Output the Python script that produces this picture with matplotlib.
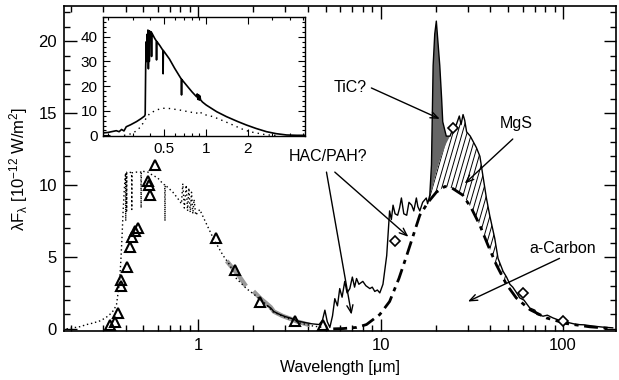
"""
Spectral energy distribution of a carbon-rich post-AGB object: optical and
near-IR photometry, the ISO spectrum, the a-Carbon continuum and the MgS and
TiC? residual features, with an inset of the unreddened stellar model.
"""

import numpy as np
import matplotlib.pyplot as plt
from matplotlib.collections import LineCollection
from matplotlib.patches import Polygon
from matplotlib.ticker import LogLocator, NullFormatter, MultipleLocator

plt.rcParams['font.family'] = ['Liberation Sans', 'DejaVu Sans']
plt.rcParams['mathtext.fontset'] = 'custom'
plt.rcParams['mathtext.rm'] = 'Liberation Sans'
plt.rcParams['mathtext.it'] = 'Liberation Sans'

# ---------------------------------------------------------------------------
# Data (wavelength in micron, lambda F_lambda in 1e-12 W/m^2)
# ---------------------------------------------------------------------------
# ISO spectrum
wl_iso = [2.4, 2.5, 2.6, 2.8, 3.0, 3.2, 3.5, 3.8, 4.2, 4.6, 4.8, 4.95, 5.1, 5.27,
          5.45, 5.61, 5.8, 5.97, 6.15, 6.36, 6.55, 6.78, 7.0, 7.2, 7.38, 7.6, 7.99,
          8.3, 8.73, 9.0, 9.29, 9.6, 9.9, 10.3, 10.8, 11.2, 11.45, 11.7, 12.0, 12.4,
          12.7, 13.0, 13.4, 13.9, 14.3, 14.8, 15.2, 15.7, 16.0, 16.4, 17.0, 17.8,
          18.1, 18.6, 19.0, 19.4, 19.8, 20.2, 20.6, 21.1, 21.6, 21.9, 22.9, 24.0,
          24.9, 26.0, 27.0, 27.6, 28.3, 28.9, 29.6, 31.0, 33.5, 35.0, 36.4, 38.0,
          39.6, 42.2, 44.0, 46.9, 49.0, 51.1, 53.0, 55.0, 57.9, 61.0, 65.7, 70.0,
          72.0, 77.7, 82.0, 88.0, 95.0, 99.6, 110, 118.7, 130, 146, 165, 187]
f_iso = [1.6, 1.45, 1.2, 1.0, 0.85, 0.75, 0.55, 0.45, 0.35, 0.3, 0.6, 1.3, 0.5, 0.1,
         0.9, 2.1, 1.6, 2.8, 2.2, 3.3, 2.5, 2.8, 3.6, 2.9, 3.5, 3.1, 3.3,
         3.0, 2.8, 2.9, 2.6, 2.7, 2.5, 3.1, 5.1, 8.2, 7.6, 8.6, 8.0, 7.9,
         8.4, 9.1, 8.0, 7.9, 8.8, 8.6, 8.2, 9.1, 8.5, 8.2, 8.8, 9.1,
         8.7, 9.3, 11.4, 18.3, 20.5, 21.4, 20.0, 18.3, 16.0, 14.4, 13.4, 13.4,
         13.9, 14.2, 14.8, 14.2, 14.9, 14.5, 13.7, 13.4, 12.6, 12.0, 10.6, 9.1,
         7.9, 6.3, 4.9, 4.0, 3.6, 3.1, 2.9, 2.6, 2.15, 2.0, 1.45, 1.3,
         1.0, 0.88, 0.95, 0.76, 0.6, 0.53, 0.4, 0.3, 0.28, 0.19, 0.12, 0.07]

# a-Carbon continuum
wl_ac = [5.5, 6.23, 7.4, 8.37, 9.9, 11.2, 12.6, 13.9, 15.1, 16.4, 18.2, 20.2, 22.5,
         24.9, 28.2, 31.4, 35.0, 38.8, 43.1, 48.9, 55.4, 65.7, 81.0, 104.2, 140, 187]
f_ac = [0.0, 0.02, 0.1, 0.3, 1.0, 1.9, 3.5, 5.1, 6.5, 7.9, 8.8, 9.5, 9.9,
        9.75, 9.3, 8.4, 7.2, 5.8, 4.45, 3.1, 2.15, 1.34, 0.76, 0.37, 0.14, 0.02]

# upper edge of a-Carbon + MgS where the TiC? excess sits on top
wl_mgs = [18.6, 19.2, 20.2, 21.1, 21.9, 22.9, 24.0]
f_mgs = [9.3, 9.8, 10.9, 11.7, 12.3, 12.9, 13.4]

# reddened optical model spectrum
wl_opt = [0.19, 0.206, 0.225, 0.245, 0.265, 0.289, 0.31, 0.328, 0.345, 0.357, 0.365,
          0.372, 0.378, 0.383, 0.388, 0.393, 0.397, 0.400, 0.401, 0.402, 0.405, 0.406,
          0.407, 0.42, 0.432, 0.433, 0.434, 0.46, 0.486, 0.487, 0.488, 0.50, 0.53,
          0.56, 0.60, 0.64, 0.656, 0.658, 0.66, 0.70, 0.727, 0.77, 0.81, 0.824, 0.84,
          0.86, 0.875, 0.89, 0.905, 0.92, 0.935, 0.95, 0.97, 1.02, 1.11, 1.21, 1.37,
          1.49, 1.62, 1.84, 2.09, 2.37, 2.56, 3.05, 3.61, 4.25, 4.8]
f_opt = [0.0, 0.07, 0.15, 0.3, 0.4, 0.55, 0.75, 1.0, 1.3, 1.7, 2.6,
         3.5, 5.0, 6.5, 8.2, 9.5, 10.4, 10.8, 7.5, 10.8, 10.9, 8.2,
         10.9, 10.9, 10.85, 8.3, 10.85, 10.9, 10.9, 8.4, 10.9, 10.95, 10.9,
         10.7, 10.5, 10.1, 10.0, 7.5, 10.0, 9.7, 9.5, 9.1, 8.7, 10.1, 8.4,
         10.0, 8.2, 9.8, 8.1, 9.5, 8.0, 9.0, 7.9, 8.3, 7.3, 6.3, 5.1,
         4.45, 3.5, 2.8, 2.26, 1.68, 1.2, 0.76, 0.41, 0.2, 0.1]

# near-IR spectrum
wl_nir = [1.46, 1.55, 1.65, 1.8, np.nan, 2.05, 2.2, 2.35, 2.5, 2.6, 2.9, 3.2, 3.5, 4.0]
f_nir = [4.6, 4.2, 3.8, 3.1, np.nan, 2.5, 2.1, 1.8, 1.5, 1.2, 0.9, 0.7, 0.5, 0.3]

# photometry
wl_tri = [0.328, 0.35, 0.365, 0.38, 0.38, 0.405, 0.423, 0.432, 0.45, 0.469, 0.532,
          0.539, 0.544, 0.579, 1.25, 1.59, 2.18, 3.41, 4.84]
f_tri = [0.3, 0.5, 1.1, 3.0, 3.4, 4.3, 5.7, 6.4, 6.8, 7.0, 10.3,
         10.0, 9.3, 11.4, 6.35, 4.1, 1.9, 0.57, 0.3]
wl_iras = [12, 25, 60, 100]
f_iras = [6.1, 14.0, 2.5, 0.55]

# inset: unreddened model and dereddened observations
wl_mod = [0.184, 0.2, 0.229, 0.24, 0.25, 0.26, 0.27, 0.29, 0.32, 0.345, 0.366, 0.369,
          0.372, 0.376, 0.378, 0.381, 0.383, 0.386, 0.389, 0.392, 0.395, 0.398, 0.403,
          0.408, 0.41, 0.412, 0.43, 0.443, 0.445, 0.447, 0.47, 0.494, 0.496, 0.498,
          0.55, 0.6, 0.65, 0.67, 0.672, 0.674, 0.75, 0.8, 0.86, 0.87, 0.88, 0.89, 0.9,
          0.91, 0.92, 0.95, 1.01, 1.2, 1.41, 1.7, 1.96, 2.3, 2.73, 3.2, 3.8, 4.5, 5.15]
f_mod = [1.0, 1.2, 1.9, 1.5, 2.4, 1.8, 3.5, 4.3, 5.6, 6.8, 7.9, 8.5,
         27.8, 38, 30, 41, 33, 42.7, 27, 42.4, 30, 42.2, 42,
         42, 32, 41.5, 39.5, 38.3, 30.6, 38.1, 36.4, 34.5, 25, 34.4,
         31, 27.2, 24, 22.8, 16.4, 22.7, 19.5, 17.6, 15.7, 16.8, 14.6, 16.5, 14.3,
         16, 14.4, 13.5, 12.3, 9.6, 7.6, 5.6, 4.2, 2.8, 1.5, 0.7, 0.16, 0.03, 0]
wl_obs = [0.26, 0.30, 0.33, 0.356, 0.38, 0.40, 0.45, 0.495, 0.55, 0.65, 0.75, 0.86,
          0.9, 0.95, 1.13, 1.35, 1.57, 1.8, 2.07, 2.4, 2.73, 3.2]
f_obs = [0.0, 0.8, 2.5, 4.9, 7.5, 9.0, 10.4, 11.0, 10.9, 10.3, 9.6, 9.0,
         9.8, 8.6, 7.6, 5.8, 4.2, 2.7, 1.5, 0.8, 0.2, 0.0]

# ---------------------------------------------------------------------------
# Main panel
# ---------------------------------------------------------------------------
fig = plt.figure(figsize=(6.19, 3.80), dpi=100)
ax = fig.add_axes([64 / 619, 1 - 331 / 380, 552 / 619, 325 / 380])
ax.set_xscale('log')
ax.set_xlim(0.184, 195)
ax.set_ylim(-0.15, 22.45)

wl_iso_a, f_iso_a = np.array(wl_iso), np.array(f_iso)
wl_ac_a, f_ac_a = np.array(wl_ac), np.array(f_ac)

# TiC? excess: ISO spectrum above the MgS edge
sel = (wl_iso_a >= 18.6) & (wl_iso_a <= 24.0)
tic = np.column_stack([np.r_[wl_iso_a[sel], wl_mgs[::-1]],
                       np.r_[f_iso_a[sel], f_mgs[::-1]]])
ax.add_patch(Polygon(tic, closed=True, facecolor='0.4', edgecolor='none', zorder=1))

# MgS band: between the a-Carbon continuum and the MgS edge / ISO spectrum
top = (wl_iso_a > 24.0) & (wl_iso_a <= 49.0)
bot = (wl_ac_a >= 18.2) & (wl_ac_a <= 48.9)
mgs = np.column_stack([np.r_[wl_mgs, wl_iso_a[top], wl_ac_a[bot][::-1]],
                       np.r_[f_mgs, f_iso_a[top], f_ac_a[bot][::-1]]])
mgs_patch = Polygon(mgs, closed=True, facecolor='none', edgecolor='none', zorder=1)
ax.add_patch(mgs_patch)
hatch = [[(x0, 0.0), (x0 + 0.17, 1.0)] for x0 in np.arange(-0.3, 1.0, 0.0085)]
lc = LineCollection(hatch, colors='k', linewidths=0.7, transform=ax.transAxes, zorder=1)
ax.add_collection(lc)
lc.set_clip_path(mgs_patch)

ax.plot(wl_nir, f_nir, color='0.6', lw=3.2, zorder=2)
ax.plot(wl_opt, f_opt, color='k', lw=1.0, ls=(0, (1, 2)), zorder=3)
ax.plot(wl_iso, f_iso, color='k', lw=1.0, zorder=4)
ax.plot(wl_ac, f_ac, color='k', lw=2.0, ls=(0, (5, 2, 1.5, 2)), zorder=4)
ax.plot(wl_tri, f_tri, ls='none', marker='^', ms=6.5, mfc='none', mec='k', mew=1.5, zorder=5)
ax.plot(wl_iras, f_iras, ls='none', marker='D', ms=5, mfc='white', mec='k', mew=1.2, zorder=5)

# labels and arrows
arrow = dict(arrowstyle='->,head_length=0.55,head_width=0.22', lw=1.0, color='k',
             shrinkA=0, shrinkB=0)
ax.text(6.78, 16.8, 'TiC?', fontsize=11.5, ha='center', va='center')
ax.annotate('', xy=(21.1, 14.6), xytext=(8.9, 16.75), arrowprops=arrow)
ax.text(55.6, 14.3, 'MgS', fontsize=11.5, ha='center', va='center')
ax.annotate('', xy=(28.9, 10.1), xytext=(53, 13.2), arrowprops=arrow)
ax.text(5.14, 12.0, 'HAC/PAH?', fontsize=11.5, ha='center', va='center')
ax.annotate('', xy=(6.93, 0.99), xytext=(5.05, 10.9), arrowprops=arrow)
ax.annotate('', xy=(14.2, 6.4), xytext=(5.61, 10.9), arrowprops=arrow)
ax.text(100, 5.6, 'a-Carbon', fontsize=11.5, ha='center', va='center')
ax.annotate('', xy=(30.1, 1.9), xytext=(95.6, 4.9), arrowprops=arrow)

ax.set_xticks([1, 10, 100], ['1', '10', '100'])
ax.xaxis.set_minor_locator(LogLocator(base=10, subs=np.arange(2, 10), numticks=20))
ax.xaxis.set_minor_formatter(NullFormatter())
ax.set_yticks([0, 5, 10, 15, 20])
ax.yaxis.set_minor_locator(MultipleLocator(1))
ax.tick_params(which='both', direction='in', top=True, right=True, labelsize=12, width=1.0)
ax.tick_params(which='major', length=9, pad=5)
ax.tick_params(which='minor', length=4.5)
for s in ax.spines.values():
    s.set_linewidth(1.2)
ax.set_xlabel('Wavelength [μm]', fontsize=11.5, labelpad=5)
ax.set_ylabel(r'$\lambda$F$_\lambda$ [10$^{-12}$ W/m$^2$]', fontsize=12, labelpad=6)

# ---------------------------------------------------------------------------
# Inset
# ---------------------------------------------------------------------------
ins = fig.add_axes([103 / 619, 1 - 136 / 380, 202 / 619, 119 / 380])
ins.set_xscale('log')
ins.set_xlim(0.184, 5.15)
ins.set_ylim(-0.25, 48)
ins.plot(wl_mod, f_mod, color='k', lw=1.2)
ins.plot(wl_obs, f_obs, color='k', lw=1.0, ls=(0, (1, 3)))
ins.set_xticks([0.5, 1, 2], ['0.5', '1', '2'])
ins.xaxis.set_minor_locator(LogLocator(base=10, subs=np.arange(2, 10), numticks=20))
ins.xaxis.set_minor_formatter(NullFormatter())
ins.set_yticks([0, 10, 20, 30, 40])
ins.yaxis.set_minor_locator(MultipleLocator(2))
ins.tick_params(which='both', direction='in', top=True, right=True, labelsize=11, width=0.8)
ins.tick_params(which='major', length=5, pad=4)
ins.tick_params(which='minor', length=2.5)
for s in ins.spines.values():
    s.set_linewidth(1.0)

fig.savefig('out.png', dpi=100)
